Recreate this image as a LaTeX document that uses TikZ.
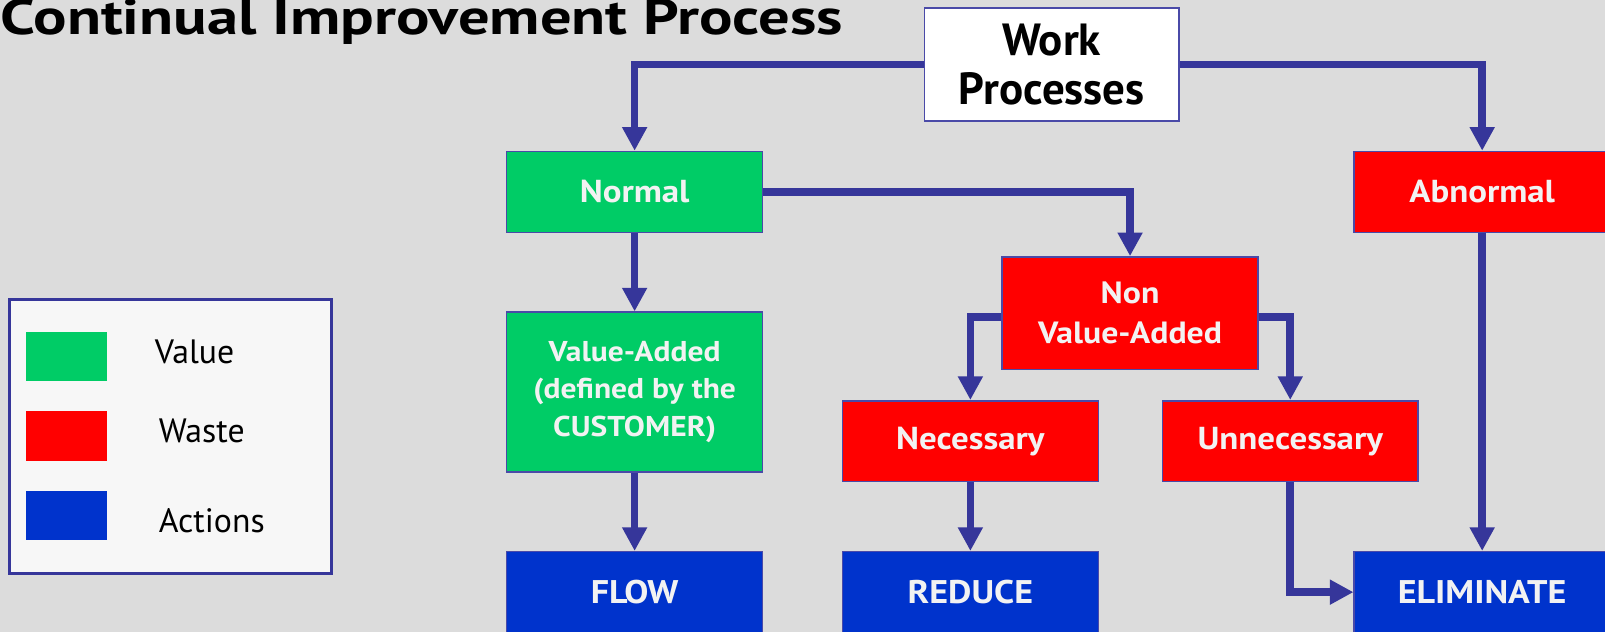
\documentclass[tikz,border=0pt]{standalone}
\usepackage{fontspec}
\setmainfont{PT Sans}
\newfontfamily\boxfont{PT Sans}[FakeStretch=1.1]
\usetikzlibrary{arrows.meta}
\definecolor{bggrey}{HTML}{DCDCDC}
\definecolor{valgreen}{HTML}{00CC66}
\definecolor{wastered}{HTML}{FF0000}
\definecolor{actblue}{HTML}{0033CC}
\definecolor{linkblue}{HTML}{36369A}
\definecolor{boxedge}{HTML}{4A4AA8}

\begin{document}
\begin{tikzpicture}[
    x=1pt, y=-1pt,
    stage/.style={
        draw=boxedge,
        line width=1.5pt,
        minimum width=250pt,
        minimum height=79pt,
        inner sep=0pt,
        align=center,
        text=black!5,
        font=\boxfont\fontsize{31}{38}\selectfont\bfseries,
    },
    value/.style={stage, fill=valgreen},
    waste/.style={stage, fill=wastered},
    action/.style={stage, fill=actblue, font=\boxfont\fontsize{32}{38}\selectfont\bfseries},
    link/.style={
        draw=linkblue,
        line width=7.5pt,
        -{Triangle[width=23pt,length=23pt]},
    },
    swatch/.style={minimum width=79pt, minimum height=48pt, inner sep=0pt},
    key/.style={anchor=west, inner sep=0pt, font=\fontsize{33}{38}\selectfont},
]

% page and background
\clip (0,0) rectangle (1568,617.4);
\fill[bggrey] (0,0) rectangle (1568,617.4);

% title
\node[anchor=base east, inner sep=0pt, font=\fontsize{61}{64}\selectfont\bfseries] (title) at (824,34) {\scalebox{1}[0.8]{Continual Improvement Process}};

% legend
\draw[draw=linkblue, line width=3pt, fill=black!3] (9,293) rectangle (324,560);
\node[swatch, fill=valgreen] (kvalue) at (65,348) {};
\node[swatch, fill=wastered] (kwaste) at (65,426) {};
\node[swatch, fill=actblue] (kaction) at (65,504) {};
\node[key] (tvalue) at (151,344) {Value};
\node[key] (twaste) at (155,421) {Waste};
\node[key] (taction) at (155,509) {Actions};

% stages
\node[stage, fill=white, text=black, minimum width=249pt, minimum height=110pt, font=\fontsize{44}{48}\selectfont\bfseries] (work) at (1027.5,63) {Work\\Processes};
\node[value] (normal) at (620,187.5) {Normal};
\node[waste] (abnormal) at (1448,187.5) {Abnormal};
\node[waste, minimum height=110pt, font=\boxfont\fontsize{30}{39}\selectfont\bfseries] (nva) at (1104,306) {Non\\Value-Added};
\node[value, minimum height=156pt, font=\boxfont\fontsize{28}{37}\selectfont\bfseries] (va) at (620,383) {Value-Added\\(defined by the\\CUSTOMER)};
\node[waste] (necessary) at (948,431) {Necessary};
\node[waste] (unnecessary) at (1260.5,431) {Unnecessary};
\node[action] (flow) at (620,578.5) {FLOW};
\node[action] (reduce) at (948,578.5) {REDUCE};
\node[action] (eliminate) at (1448,578.5) {ELIMINATE};

% connectors
\draw[link] (work.west) -| (normal.north);
\draw[link] (work.east) -| (abnormal.north);
\draw[link] (normal.east) -| (nva.north);
\draw[link] (normal.south) -- (va.north);
\draw[link] ([yshift=-4pt]nva.west) -| (necessary.north);
\draw[link] ([yshift=-4pt]nva.east) -| (unnecessary.north);
\draw[link] (va.south) -- (flow.north);
\draw[link] (necessary.south) -- (reduce.north);
\draw[link] (abnormal.south) -- (eliminate.north);
\draw[link] (unnecessary.south) |- (eliminate.west);

\end{tikzpicture}
\end{document}
